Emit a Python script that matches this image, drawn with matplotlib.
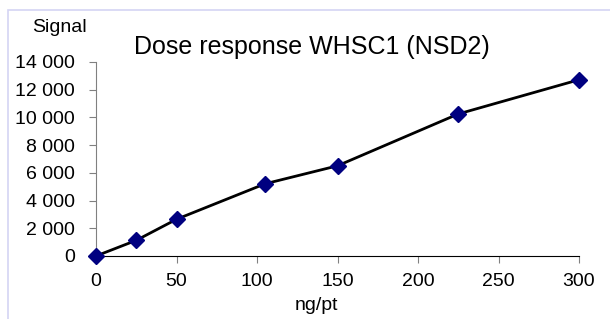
import matplotlib.pyplot as plt
from matplotlib.patches import Rectangle
from matplotlib.ticker import FuncFormatter

plt.rcParams['font.family'] = ['Liberation Sans', 'DejaVu Sans']

dose = [0, 25, 50, 105, 150, 225, 300]
signal = [0, 1130, 2650, 5210, 6510, 10250, 12720]
x_ticks = [0, 50, 100, 150, 200, 250, 300]
y_ticks = [0, 2000, 4000, 6000, 8000, 10000, 12000, 14000]

fig = plt.figure(figsize=(6.10, 3.19), dpi=100)
# light frame round the chart area
fig.patches.append(Rectangle((8/610, -0.1), 1.1, 1 - 10/319 + 0.1, transform=fig.transFigure,
                             fill=False, edgecolor='#d4d4f4', linewidth=1.2))

ax = fig.add_axes([96/610, 1 - 256/319, (579 - 96)/610, (256 - 62)/319])
ax.plot(dose, signal, color='black', linewidth=2, marker='D', markersize=8,
        markerfacecolor='#000080', markeredgecolor='#000080', clip_on=False, zorder=3)

ax.set_xlim(0, 300)
ax.set_ylim(0, 14000)
ax.set_xticks(x_ticks)
ax.set_yticks(y_ticks)
ax.yaxis.set_major_formatter(FuncFormatter(lambda v, p: f'{int(v):,}'.replace(',', ' ')))

for s in ['top', 'right']:
    ax.spines[s].set_visible(False)
ax.spines['left'].set_color('#808080')
ax.spines['bottom'].set_color('black')
ax.tick_params(axis='y', colors='#808080', labelcolor='black', labelsize=14, length=5, direction='out', pad=10)
ax.tick_params(axis='x', colors='#808080', labelcolor='black', labelsize=14, length=5, direction='out', pad=7)

fig.text(59/610, 1 - 27/319, 'Signal', fontsize=14, ha='center', va='center')
fig.text(312/610, 1 - 47/319, 'Dose response WHSC1 (NSD2)', fontsize=18, ha='center', va='center')
fig.text(316/610, 1 - 305/319, 'ng/pt', fontsize=14, ha='center', va='center')

fig.savefig('out.png', dpi=100)
